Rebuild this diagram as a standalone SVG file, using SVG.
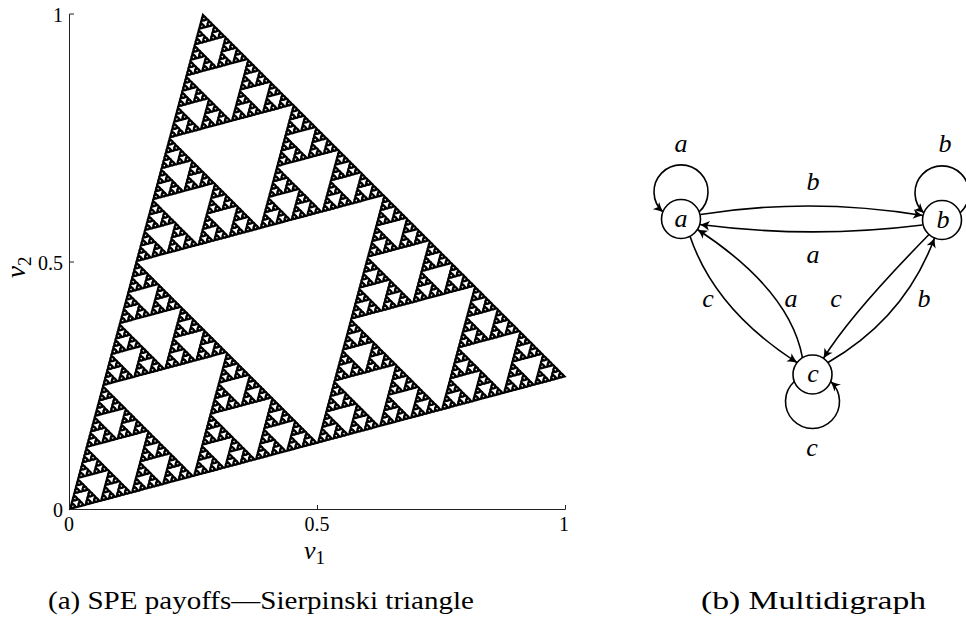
<svg xmlns="http://www.w3.org/2000/svg" width="966" height="633" viewBox="0 0 966 633">
<style>
.t{font-family:"Liberation Serif","Times New Roman",Times,serif;fill:#000}
.tick{font-size:20px}
.it{font-style:italic;font-size:26px}
.cap{font-size:26px}
.ax{stroke:#222;stroke-width:1;fill:none}
.node{fill:#fff;stroke:#000;stroke-width:1.6}
.e{fill:none;stroke:#000;stroke-width:1.6;marker-end:url(#ah)}
</style>
<defs>
<marker id="ah" viewBox="-11 -6 12 12" refX="0" refY="0" markerWidth="12" markerHeight="12" markerUnits="userSpaceOnUse" orient="auto">
<path d="M0.5,0 C-3,-1 -6.5,-3 -9.5,-4.8 L-7.2,0 L-9.5,4.8 C-6.5,3 -3,1 0.5,0Z" fill="#000"/>
</marker>
<polygon id="t0" points="-0.17,-0.17 1.34,-0.17 -0.17,1.34"/>
<g id="t1"><use href="#t0" transform="scale(.5)"/><use href="#t0" transform="translate(.5,0) scale(.5)"/><use href="#t0" transform="translate(0,.5) scale(.5)"/></g>
<g id="t2"><use href="#t1" transform="scale(.5)"/><use href="#t1" transform="translate(.5,0) scale(.5)"/><use href="#t1" transform="translate(0,.5) scale(.5)"/></g>
<g id="t3"><use href="#t2" transform="scale(.5)"/><use href="#t2" transform="translate(.5,0) scale(.5)"/><use href="#t2" transform="translate(0,.5) scale(.5)"/></g>
<g id="t4"><use href="#t3" transform="scale(.5)"/><use href="#t3" transform="translate(.5,0) scale(.5)"/><use href="#t3" transform="translate(0,.5) scale(.5)"/></g>
<g id="t5"><use href="#t4" transform="scale(.5)"/><use href="#t4" transform="translate(.5,0) scale(.5)"/><use href="#t4" transform="translate(0,.5) scale(.5)"/></g>
<g id="t6"><use href="#t5" transform="scale(.5)"/><use href="#t5" transform="translate(.5,0) scale(.5)"/><use href="#t5" transform="translate(0,.5) scale(.5)"/></g>
<g id="t7"><use href="#t6" transform="scale(.5)"/><use href="#t6" transform="translate(.5,0) scale(.5)"/><use href="#t6" transform="translate(0,.5) scale(.5)"/></g>
</defs>
<rect width="966" height="633" fill="#fff"/>

<!-- Panel (a) -->
<g id="sierpinski" fill="#000">
<use href="#t7" transform="matrix(496,-132.8,133.2,-495.5,69.5,509.5)"/>
</g>
<g id="axes">
<path class="ax" d="M69.5,14 V509.5 H565.5 M69.5,14 H74 M69.5,262 H74 M317.5,509.5 V505 M565.5,509.5 V505"/>
<text class="t tick" x="63" y="22" text-anchor="end">1</text>
<text class="t tick" x="63" y="270" text-anchor="end">0.5</text>
<text class="t tick" x="63" y="517" text-anchor="end">0</text>
<text class="t tick" x="69" y="531" text-anchor="middle">0</text>
<text class="t tick" x="317" y="531" text-anchor="middle">0.5</text>
<text class="t tick" x="564" y="531" text-anchor="middle">1</text>
<text class="t" x="304" y="559" font-size="26" font-style="italic">v<tspan font-size="19" font-style="normal" dy="5">1</tspan></text>
<text class="t" transform="translate(25,278) rotate(-90)" font-size="27" font-style="italic">v<tspan font-size="19" font-style="normal" dy="6">2</tspan></text>
</g>
<text id="caption-a" class="t cap" x="48" y="609" textLength="426" lengthAdjust="spacingAndGlyphs">(a) SPE payoffs—Sierpinski triangle</text>

<!-- Panel (b) -->
<g id="connectors">
<path class="e" d="M699,212 A27,27 0 1 0 663,212"/>
<path class="e" d="M960,213 A27,27 0 1 0 924,213"/>
<path class="e" d="M794.3,381.5 A27,27 0 1 0 830.7,381.5"/>
<path class="e" d="M700.5,214.5 Q811,197 922.8,215.5"/>
<path class="e" d="M922.5,225 Q811,239 700,224.5"/>
<path class="e" d="M690,236.3 Q715,310 797,362.5"/>
<path class="e" d="M802.5,357.8 Q790,290 697.5,229.5"/>
<path class="e" d="M929,234.5 Q850,315 823.5,358.3"/>
<path class="e" d="M828,362.5 Q905,318 934.5,238"/>
</g>
<g id="edge-labels">
<text class="t it" x="681" y="152" text-anchor="middle">a</text>
<text class="t it" x="945" y="152" text-anchor="middle">b</text>
<text class="t it" x="813" y="190" text-anchor="middle">b</text>
<text class="t it" x="813" y="263" text-anchor="middle">a</text>
<text class="t it" x="708" y="307" text-anchor="middle">c</text>
<text class="t it" x="791" y="307" text-anchor="middle">a</text>
<text class="t it" x="836" y="307" text-anchor="middle">c</text>
<text class="t it" x="924" y="307" text-anchor="middle">b</text>
<text class="t it" x="812" y="456" text-anchor="middle">c</text>
</g>
<g id="node-a"><circle class="node" cx="681" cy="219" r="19.5"/><text class="t it" x="681" y="227" text-anchor="middle">a</text></g>
<g id="node-b"><circle class="node" cx="942" cy="220" r="19.5"/><text class="t it" x="943" y="228" text-anchor="middle">b</text></g>
<g id="node-c"><circle class="node" cx="812.5" cy="374.5" r="19.5"/><text class="t it" x="813" y="382" text-anchor="middle">c</text></g>
<text id="caption-b" class="t cap" x="701" y="609" textLength="225" lengthAdjust="spacingAndGlyphs">(b) Multidigraph</text>
</svg>
